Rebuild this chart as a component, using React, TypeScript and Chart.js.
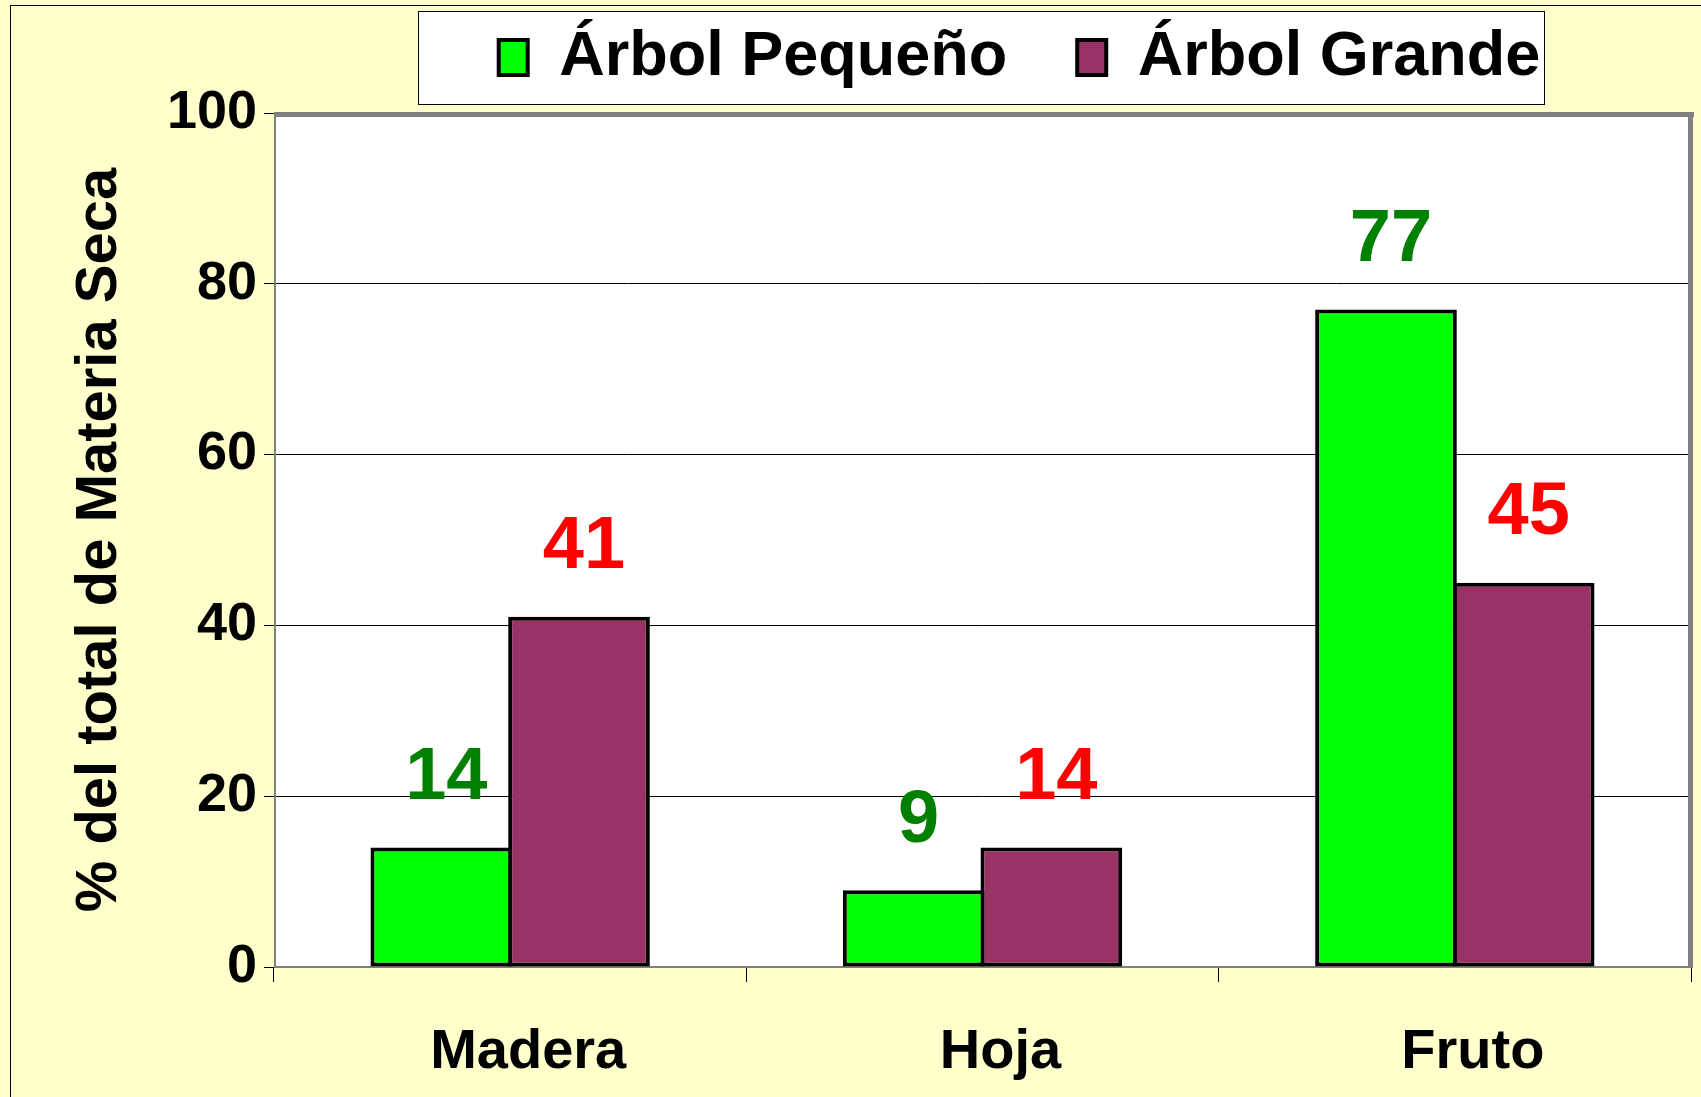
import React, { useEffect, useRef } from 'react';
import { Chart, registerables } from 'chart.js';

Chart.register(...registerables);

// ---- data ----
const categories = ['Madera', 'Hoja', 'Fruto'];
const seriesNames = ['Árbol Pequeño', 'Árbol Grande'];
const arbolPequeno = [14, 9, 77];
const arbolGrande = [41, 14, 45];
const yMin = 0;
const yMax = 100;
const yStep = 20;
const yAxisTitle = '% del total de Materia Seca';

// ---- styles ----
const FONT = '"Liberation Sans", Arial, Helvetica, sans-serif';
const seriesColors = ['#00FF00', '#993366'];
const labelColors = ['#008000', '#FF0000'];

export default function App() {
  const ref = useRef<HTMLCanvasElement>(null);

  useEffect(() => {
    const canvas = ref.current;
    if (!canvas) return;

    const decor = {
      id: 'decor',
      afterLayout(chart: any) {
        const lg = chart.legend;
        if (lg) {
          lg.left += 37;
          lg.right += 37;
          lg.top -= 14;
          lg.bottom -= 14;
        }
      },
      beforeDraw(chart: any) {
        const { ctx, width, height, chartArea: a } = chart;
        ctx.save();
        ctx.fillStyle = '#FFFFCC';
        ctx.fillRect(0, 0, width, height);
        ctx.strokeStyle = '#000';
        ctx.lineWidth = 1;
        ctx.strokeRect(10.5, 5.5, width + 50, height + 50);
        // legend box
        const bx = a.left + 144;
        const bw = a.right - 147 - bx;
        ctx.fillStyle = '#FFFFFF';
        ctx.fillRect(bx, 11, bw, 93);
        ctx.strokeRect(bx + 0.5, 11.5, bw, 93);
        // plot area
        ctx.fillRect(a.left, a.top, a.right - a.left, a.bottom - a.top);
        ctx.restore();
      },
      beforeDatasetsDraw(chart: any) {
        const { ctx, chartArea: a } = chart;
        ctx.save();
        ctx.fillStyle = '#808080';
        ctx.fillRect(a.left, a.top - 1, a.right - a.left + 3, 5);
        ctx.fillRect(a.right - 3, a.top - 1, 5, a.bottom - a.top + 2);
        ctx.fillRect(a.left, a.top, 2, a.bottom - a.top);
        ctx.fillRect(a.left, a.bottom - 1, a.right - a.left, 2);
        ctx.restore();
      },
      afterDatasetsDraw(chart: any) {
        const { ctx } = chart;
        ctx.save();
        ctx.font = `bold 74px ${FONT}`;
        ctx.textAlign = 'center';
        ctx.textBaseline = 'middle';
        chart.data.datasets.forEach((ds: any, i: number) => {
          const meta = chart.getDatasetMeta(i);
          meta.data.forEach((el: any, j: number) => {
            ctx.fillStyle = labelColors[i];
            ctx.fillText(String(ds.data[j]), el.x + 5, el.y - 69);
          });
        });
        ctx.restore();
      },
    };

    const barStyle = {
      borderColor: '#000000',
      borderWidth: 4,
      borderSkipped: false,
      categoryPercentage: 0.583,
      barPercentage: 1.029,
    };

    const chart = new Chart(canvas, {
      type: 'bar',
      data: {
        labels: categories,
        datasets: [
          { label: seriesNames[0], data: arbolPequeno, backgroundColor: seriesColors[0], ...barStyle },
          { label: seriesNames[1], data: arbolGrande, backgroundColor: seriesColors[1], ...barStyle },
        ],
      },
      options: {
        responsive: false,
        animation: false,
        devicePixelRatio: 1,
        layout: { padding: { left: 10, right: 10, top: -30, bottom: 0 } },
        plugins: {
          legend: {
            display: true,
            position: 'top',
            fullSize: false,
            align: 'center',
            labels: {
              font: { family: FONT, size: 63, weight: 'bold' },
              color: '#000000',
              boxWidth: 29,
              boxHeight: 35,
              padding: 70,
            },
          },
          tooltip: { enabled: false },
          title: { display: false },
        },
        scales: {
          x: {
            grid: {
              display: true,
              drawOnChartArea: false,
              drawTicks: true,
              tickLength: 15,
              tickColor: '#000000',
              offset: true,
            },
            border: { display: false },
            ticks: {
              font: { family: FONT, size: 56, weight: 'bold' },
              color: '#000000',
              padding: 37,
              labelOffset: 18,
            },
            afterFit: (s: any) => {
              s.height = 130;
            },
          },
          y: {
            min: yMin,
            max: yMax,
            ticks: {
              stepSize: yStep,
              font: { family: FONT, size: 54, weight: 'bold' },
              color: '#000000',
              padding: 7,
            },
            grid: {
              color: '#000000',
              tickColor: '#000000',
              tickLength: 10,
              lineWidth: 1,
            },
            border: { display: false },
            title: {
              display: true,
              text: yAxisTitle,
              font: { family: FONT, size: 58, weight: 'bold' },
              color: '#000000',
              padding: { top: 55, bottom: 0 },
            },
            afterFit: (s: any) => {
              s.width = 264;
            },
          },
        },
      },
      plugins: [decor],
    } as any);

    return () => chart.destroy();
  }, []);

  return (
    <div style={{ position: 'absolute', left: 0, top: 0, width: 1701, height: 1097 }}>
      <canvas
        ref={ref}
        width={1701}
        height={1097}
        style={{ display: 'block', width: 1701, height: 1097 }}
      />
    </div>
  );
}
